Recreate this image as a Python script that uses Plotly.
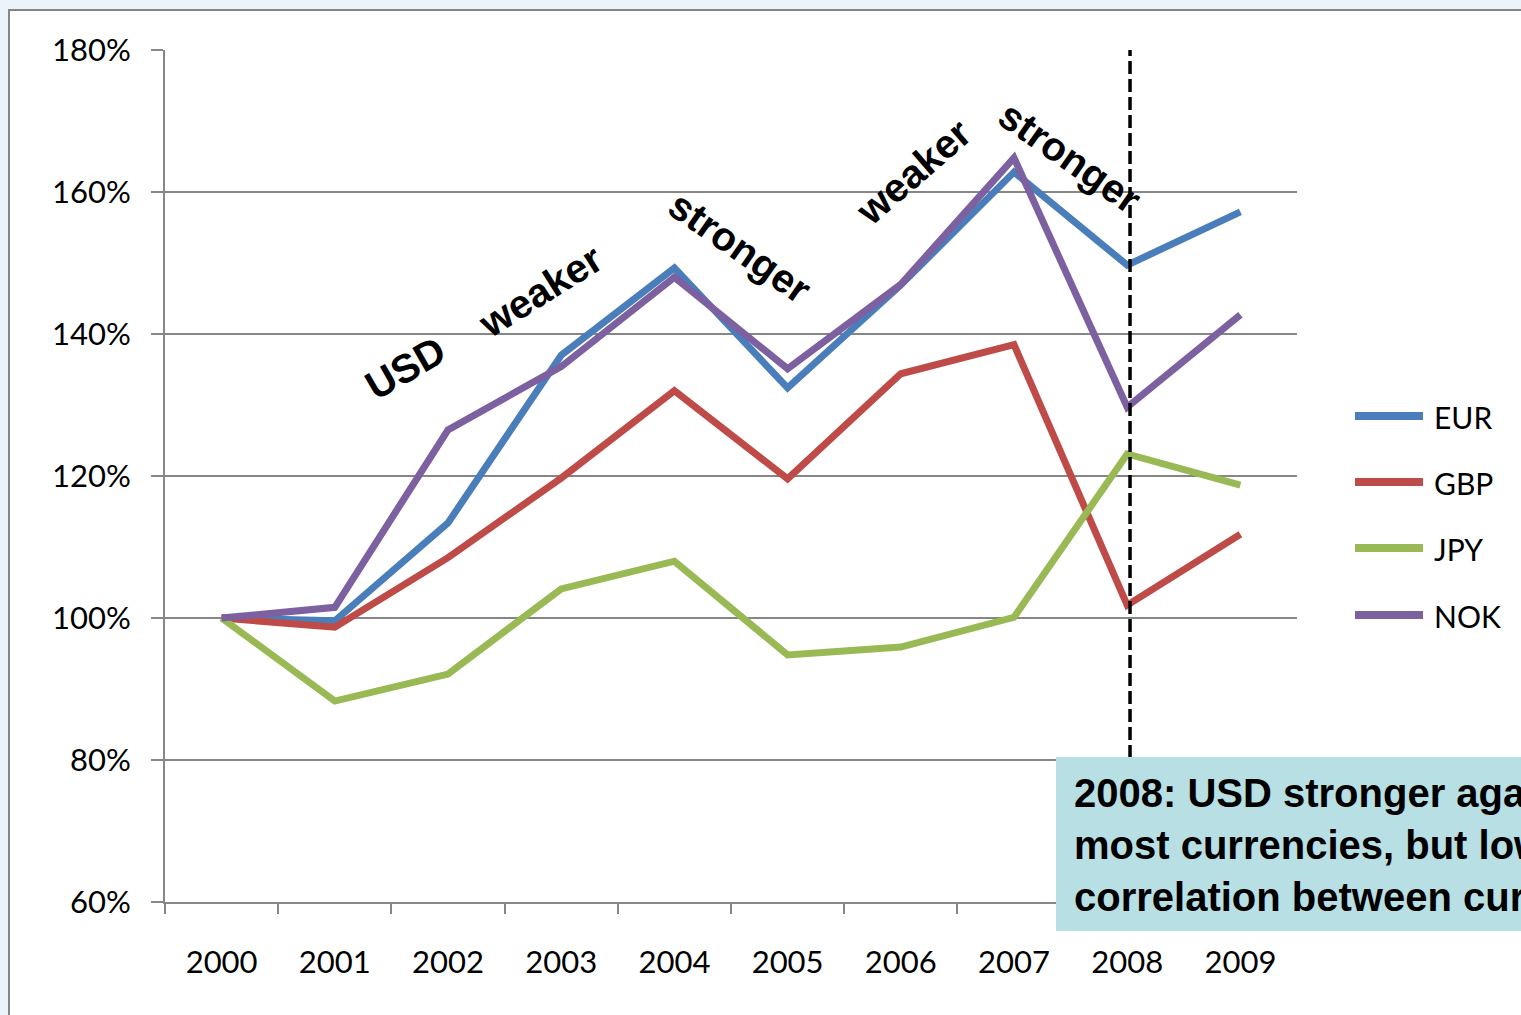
import plotly.graph_objects as go

# ---- data ----
years = ["2000", "2001", "2002", "2003", "2004", "2005", "2006", "2007", "2008", "2009"]
eur = [100, 99.6, 113.4, 137.0, 149.3, 132.4, 146.9, 162.8, 149.7, 157.2]
gbp = [100, 98.7, 108.5, 119.7, 132.0, 119.6, 134.4, 138.5, 101.8, 111.8]
jpy = [100, 88.3, 92.1, 104.1, 108.0, 94.8, 95.9, 100.1, 123.1, 118.7]
nok = [100, 101.5, 126.5, 135.4, 148.0, 135.1, 147.0, 164.8, 129.7, 142.7]
series_names = ["EUR", "GBP", "JPY", "NOK"]
series_values = [eur, gbp, jpy, nok]
series_colors = ["#4A7EBB", "#BE4B48", "#98B954", "#7D60A0"]
y_ticks = [60, 80, 100, 120, 140, 160, 180]
y_tick_labels = ["60%", "80%", "100%", "120%", "140%", "160%", "180%"]
phase_labels = ["USD", "weaker", "stronger", "weaker", "stronger"]
note_text = "2008: USD stronger against<br>most currencies, but low<br>correlation between currencies"

# ---- layout geometry (pixels) ----
W, H = 1521, 1015
L, R, T, B = 165, 1297, 50, 902
GRAY = "#868686"


def px(x):
    return (x - L) / (R - L)


def py(y):
    return (B - y) / (B - T)


fig = go.Figure()
for name, vals, col in zip(series_names, series_values, series_colors):
    fig.add_trace(go.Scatter(x=years, y=vals, name=name, mode="lines",
                             line=dict(color=col, width=7), showlegend=False))

shapes = []
# outer frame
shapes.append(dict(type="rect", xref="paper", yref="paper", layer="below",
                   x0=px(9), x1=px(1560), y0=py(1060), y1=py(10),
                   fillcolor="white", line=dict(color=GRAY, width=2)))
# dashed 2008 line
shapes.append(dict(type="line", xref="x", yref="y", layer="above",
                   x0=8.025, x1=8.025, y0=60, y1=180,
                   line=dict(color="black", width=3.5, dash="13px,5px")))
# note box
shapes.append(dict(type="rect", xref="paper", yref="paper", layer="above",
                   x0=px(1056), x1=px(1600), y0=py(931), y1=py(757),
                   fillcolor="#B8DFE3", line=dict(width=0)))

annotations = []
# custom legend
leg_y = [416, 482, 548, 615]
for name, col, ly in zip(series_names, series_colors, leg_y):
    shapes.append(dict(type="line", xref="paper", yref="paper", layer="above",
                       x0=px(1355), x1=px(1423), y0=py(ly), y1=py(ly),
                       line=dict(color=col, width=8)))
    annotations.append(dict(xref="paper", yref="paper", x=px(1432), y=py(ly + 1),
                            text=name, showarrow=False, xanchor="left", yanchor="middle",
                            font=dict(family="Lato", size=30, color="black")))

# rotated phase labels
label_pos = [(405, 368, -30), (540, 291, -32), (740, 247, 35), (913, 172, -41), (1070, 157, 35)]
for txt, (lx, ly, ang) in zip(phase_labels, label_pos):
    annotations.append(dict(xref="paper", yref="paper", x=px(lx), y=py(ly), text=txt,
                            showarrow=False, textangle=ang, xanchor="center", yanchor="middle",
                            font=dict(family="Liberation Sans", size=40, color="black",
                                      weight="bold")))

# note text
annotations.append(dict(xref="paper", yref="paper", x=px(1072), y=py(845), text=note_text,
                        showarrow=False, align="left", xanchor="left", yanchor="middle",
                        font=dict(family="Liberation Sans", size=40, color="black",
                                  weight="bold")))

fig.update_layout(
    width=W, height=H,
    margin=dict(l=L, r=W - R, t=T, b=H - B, pad=0),
    paper_bgcolor="#EAF4FA", plot_bgcolor="white",
    shapes=shapes, annotations=annotations, showlegend=False,
    xaxis=dict(type="category", range=[-0.5, 9.5], showgrid=False, showline=True,
               linecolor=GRAY, linewidth=2, ticks="outside", tickson="boundaries",
               ticklen=10, tickwidth=2, tickcolor=GRAY, zeroline=False,
               tickfont=dict(family="Lato", size=31, color="black"),
               ticklabelstandoff=32),
    yaxis=dict(range=[60, 180], tickmode="array", tickvals=y_ticks, ticktext=y_tick_labels,
               showgrid=True,
               gridcolor=GRAY, gridwidth=2, showline=True, linecolor=GRAY, linewidth=2,
               ticks="outside", ticklen=12, tickwidth=2, tickcolor=GRAY, zeroline=False,
               tickfont=dict(family="Lato", size=31, color="black"),
               ticklabelstandoff=14),
)

fig.write_html("out.html")
